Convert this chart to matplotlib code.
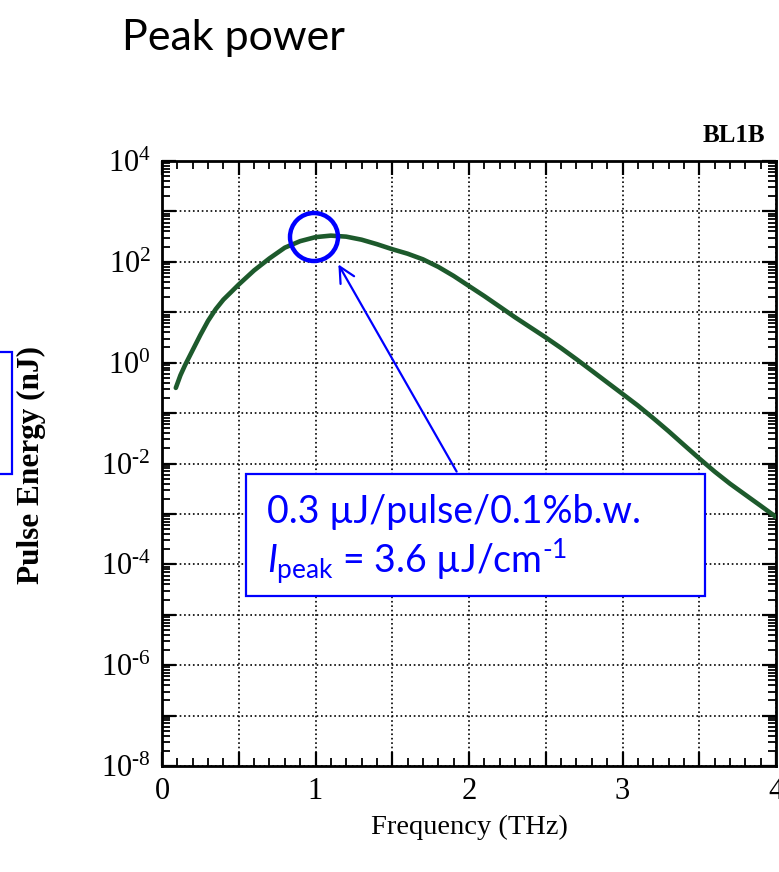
import math
import matplotlib
matplotlib.use("Agg")
import matplotlib.pyplot as plt
from matplotlib.patches import Rectangle, Ellipse
from matplotlib.ticker import FixedLocator, LogLocator, NullFormatter, FixedFormatter, FuncFormatter

plt.rcParams['mathtext.fontset'] = 'custom'
plt.rcParams['mathtext.rm'] = 'Lato'
plt.rcParams['mathtext.it'] = 'Lato:italic'

# Data
freq_thz = [0.09, 0.12, 0.15, 0.20, 0.25, 0.30, 0.35, 0.40, 0.45, 0.50, 0.60, 0.70,
            0.80, 0.90, 1.00, 1.10, 1.20, 1.30, 1.40, 1.50, 1.60, 1.70, 1.80, 1.90,
            2.00, 2.10, 2.20, 2.30, 2.40, 2.50, 2.60, 2.70, 2.80, 2.90, 3.00, 3.10,
            3.20, 3.30, 3.40, 3.50, 3.60, 3.70, 3.80, 3.90, 4.00]
energy_nj = [0.316, 0.562, 0.891, 1.78, 3.55, 6.76, 11.5, 17.8, 25.1, 35.5, 67.6, 117.0,
             191.0, 257.0, 309.0, 331.0, 316.0, 275.0, 224.0, 178.0, 145.0, 112.0, 79.4, 52.5,
             33.1, 20.9, 12.9, 7.94, 5.01, 3.16, 1.95, 1.17, 0.692, 0.407, 0.240, 0.141,
             0.0794, 0.0437, 0.0234, 0.0126, 0.00692, 0.00398, 0.0024, 0.00145, 0.00087]

x_tick_labels = ['0', '', '1', '', '2', '', '3', '', '4']
y_label_exps = [-8, -6, -4, -2, 0, 2, 4]

fig = plt.figure(figsize=(7.79, 8.72), dpi=100)
fig.patch.set_facecolor('white')
ax = fig.add_axes([162/779, 1-766/872, (776-162)/779, (766-161)/872])

ax.semilogy(freq_thz, energy_nj, color='#1d5a2c', lw=3.3, solid_capstyle='round',
            solid_joinstyle='round', zorder=3)
ax.set_xlim(0, 4)
ax.set_ylim(1e-8, 1e4)

serif = 'Liberation Serif'
ax.xaxis.set_major_locator(FixedLocator([0, 0.5, 1, 1.5, 2, 2.5, 3, 3.5, 4]))
ax.xaxis.set_major_formatter(FixedFormatter(x_tick_labels))
ax.xaxis.set_minor_locator(FixedLocator([i/10 for i in range(41)]))
ax.yaxis.set_major_locator(LogLocator(base=10, numticks=30))
ax.yaxis.set_minor_locator(LogLocator(base=10, subs=range(2, 10), numticks=30))
ax.yaxis.set_minor_formatter(NullFormatter())

def yfmt(v, pos):
    e = int(round(math.log10(v)))
    if e in y_label_exps:
        s = str(e).replace('-', '\u2010')
        return r'$\mathdefault{10^{%s}}$' % s
    return ''
ax.yaxis.set_major_formatter(FuncFormatter(yfmt))

ax.tick_params(which='both', direction='in', top=True, right=True, colors='black')
ax.tick_params(which='major', length=10, width=1.6, labelsize=22, pad=8)
ax.tick_params(which='minor', length=6, width=1.3)
for lab in ax.get_xticklabels() + ax.get_yticklabels():
    lab.set_family(serif)
for sp in ax.spines.values():
    sp.set_linewidth(2)

ax.grid(True, which='major', linestyle=':', color='black', lw=1.2)

ax.set_xlabel('Frequency (THz)', family=serif, fontsize=20.5, labelpad=6)
ax.set_ylabel('Pulse Energy (nJ)', family=serif, fontsize=22.5, fontweight='bold')
ax.yaxis.set_label_coords(31/779, 1-465/872, transform=fig.transFigure)
ax.yaxis.label.set_va('center')
fig.text(765/779, 1-135/872, 'BL1B', family=serif, fontsize=18, fontweight='bold',
         ha='right', va='center')

fig.text(122/779, 1-50/872, 'Peak power', family=['Lato', 'DejaVu Sans'], fontsize=31,
         va='baseline', ha='left')

# circle around peak
circ = Ellipse((314/779, 1-237/872), 48/779, 48/872, transform=fig.transFigure,
               fill=False, ec='#0000ff', lw=3.2, zorder=5)
fig.add_artist(circ)

# arrow
ax.annotate('', xy=(337/779, 1-262/872), xycoords='figure fraction',
            xytext=(458/779, 1-474/872), textcoords='figure fraction',
            arrowprops=dict(arrowstyle='->', color='#0000ff', lw=1.6, mutation_scale=28))

# text box
box = Rectangle((246/779, 1-596/872), (705-246)/779, (596-474)/872, transform=fig.transFigure,
                fc='white', ec='#0000ff', lw=1.6, zorder=6)
fig.add_artist(box)
fig.text(267/779, 1-523/872, '0.3 \u00b5J/pulse/0.1%b.w.', family=['Lato', 'DejaVu Sans'],
         fontsize=27, color='#0000ff', va='baseline', ha='left', zorder=7)
fig.text(267/779, 1-573/872, '$\\mathit{I}_{\\mathrm{peak}}$ = 3.6 \u00b5J/cm$^{\\mathrm{\u2010}1}$',
         family=['Lato', 'DejaVu Sans'], fontsize=27, color='#0000ff', va='baseline',
         ha='left', zorder=7)

# partial blue box at left edge
fig.add_artist(Rectangle((-20/779, 1-474/872), 32/779, (474-352)/872, transform=fig.transFigure,
                         fill=False, ec='#0000ff', lw=1.6))

fig.savefig('out.png', dpi=100)
